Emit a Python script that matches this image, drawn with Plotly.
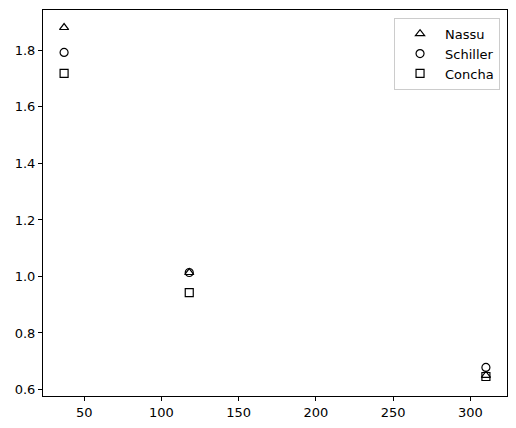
import plotly.graph_objects as go

x = [37, 118, 310]
nassu = [1.881, 1.014, 0.650]
schiller = [1.793, 1.014, 0.678]
concha = [1.719, 0.943, 0.646]

fig = go.Figure()
for name, y, sym in [("Nassu", nassu, "triangle-up-open"),
                     ("Schiller", schiller, "circle-open"),
                     ("Concha", concha, "square-open")]:
    fig.add_trace(go.Scatter(x=x, y=y, mode="markers", name=name,
                             marker=dict(symbol=sym, size=8, color="black",
                                         line=dict(width=1.2, color="black"))))

axis = dict(showgrid=False, zeroline=False, showline=True, mirror=True,
            linecolor="black", linewidth=1, ticks="outside", ticklen=4,
            tickcolor="black", automargin=False)
fig.update_xaxes(range=[23.35, 323.65], tickvals=[50, 100, 150, 200, 250, 300], **axis)
fig.update_yaxes(range=[0.577, 1.943], tickvals=[0.6, 0.8, 1.0, 1.2, 1.4, 1.6, 1.8],
                 tickformat=".1f", **axis)

# the page puts the figure 8px in from the top left, so shrink it to fit
fig.update_layout(
    width=508, height=420,
    margin=dict(l=35, r=9, t=2, b=32),
    plot_bgcolor="white", paper_bgcolor="white",
    font=dict(family="DejaVu Sans", size=13, color="black"),
    legend=dict(x=0.985, y=0.98, xanchor="right", yanchor="top",
                bgcolor="white", bordercolor="#cccccc", borderwidth=1,
                font=dict(size=13), itemwidth=40, tracegroupgap=2),
)
fig.write_html("out.html")
